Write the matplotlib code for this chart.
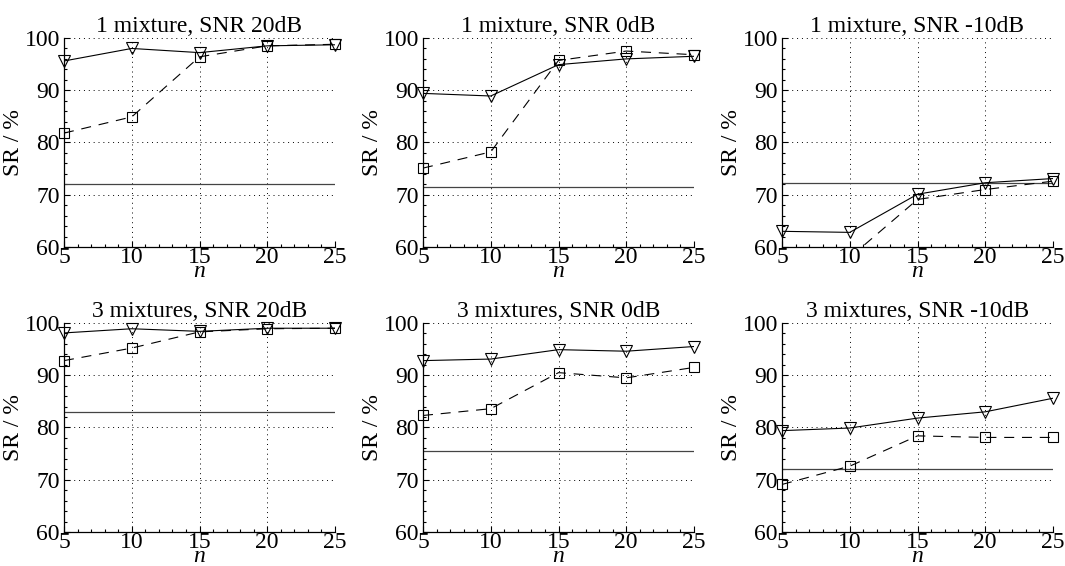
import matplotlib
matplotlib.use("Agg")
import matplotlib.pyplot as plt
from matplotlib.ticker import MultipleLocator
from matplotlib.patches import Rectangle

plt.rcParams['font.family'] = ['Liberation Serif', 'DejaVu Serif']
plt.rcParams['mathtext.fontset'] = 'custom'
plt.rcParams['mathtext.it'] = 'Liberation Serif:italic'

n_values = [5, 10, 15, 20, 25]

titles = ["1 mixture, SNR 20dB", "1 mixture, SNR 0dB", "1 mixture, SNR -10dB",
          "3 mixtures, SNR 20dB", "3 mixtures, SNR 0dB", "3 mixtures, SNR -10dB"]

# solid line with down-triangles
tri_1mix_20 = [95.6, 98.0, 97.2, 98.5, 98.7]
tri_1mix_0 = [89.4, 88.9, 94.9, 96.0, 96.5]
tri_1mix_m10 = [63.0, 62.8, 70.1, 72.3, 73.1]
tri_3mix_20 = [98.1, 98.9, 98.4, 99.0, 99.0]
tri_3mix_0 = [92.8, 93.1, 94.9, 94.6, 95.5]
tri_3mix_m10 = [79.4, 79.9, 81.8, 83.0, 85.6]

# dashed line with squares
sq_1mix_20 = [81.8, 84.9, 96.4, 98.5, 98.8]
sq_1mix_0 = [75.1, 78.2, 95.7, 97.5, 96.8]
sq_1mix_m10 = [55.0, 58.0, 69.1, 71.0, 72.6]
sq_3mix_20 = [92.8, 95.2, 98.3, 98.9, 99.0]
sq_3mix_0 = [82.3, 83.6, 90.5, 89.5, 91.5]
sq_3mix_m10 = [69.1, 72.6, 78.4, 78.1, 78.1]

# horizontal reference level
baseline = [72.1, 71.5, 72.2, 83.0, 75.5, 72.1]

tri_series = [tri_1mix_20, tri_1mix_0, tri_1mix_m10, tri_3mix_20, tri_3mix_0, tri_3mix_m10]
sq_series = [sq_1mix_20, sq_1mix_0, sq_1mix_m10, sq_3mix_20, sq_3mix_0, sq_3mix_m10]

fig = plt.figure(figsize=(10.65, 5.66), dpi=100)

lefts = [64, 423, 782]
tops = [38, 323]
W, H = 271, 209
FW, FH = 1065, 566

fs = 17
for i in range(6):
    r, c = divmod(i, 3)
    ax = fig.add_axes([lefts[c] / FW, 1 - (tops[r] + H) / FH, W / FW, H / FH])
    # lines (clipped to axes)
    ax.plot(n_values, tri_series[i], color='black', lw=0.8, zorder=3)
    ax.plot(n_values, sq_series[i], color='black', lw=0.8, dashes=(9, 7), zorder=3)
    # markers (allowed to extend over the axes edges, but not below the y range)
    clip = Rectangle((-0.1, 0.0), 1.2, 1.2, transform=ax.transAxes)
    m1, = ax.plot(n_values, tri_series[i], linestyle='none', marker='v',
                  markersize=9, markerfacecolor='none', markeredgecolor='black',
                  markeredgewidth=0.8, zorder=4)
    m2, = ax.plot(n_values, sq_series[i], linestyle='none', marker='s',
                  markersize=7, markerfacecolor='none', markeredgecolor='black',
                  markeredgewidth=0.8, zorder=4)
    m1.set_clip_path(clip)
    m2.set_clip_path(clip)
    ax.axhline(baseline[i], color='#444444', lw=0.9, zorder=2)
    ax.set_xlim(5, 25)
    ax.set_ylim(60, 100)
    ax.xaxis.set_major_locator(MultipleLocator(5))
    ax.xaxis.set_minor_locator(MultipleLocator(1))
    ax.yaxis.set_major_locator(MultipleLocator(10))
    ax.yaxis.set_minor_locator(MultipleLocator(2))
    ax.tick_params(which='both', direction='in', top=False, right=False,
                   labelsize=fs, width=0.8)
    ax.tick_params(which='major', length=4)
    ax.tick_params(which='minor', length=2.5)
    ax.tick_params(axis='x', pad=0)
    ax.tick_params(axis='y', pad=3)
    ax.grid(True, which='major', linestyle=(0, (1, 4)), color='black', lw=0.7)
    for s in ['top', 'right']:
        ax.spines[s].set_visible(False)
    for s in ['left', 'bottom']:
        ax.spines[s].set_linewidth(0.9)
    ax.set_title(titles[i], fontsize=fs, pad=4)
    ax.set_ylabel('SR / %', fontsize=fs, labelpad=0)
    ax.set_xlabel('$n$', fontsize=fs, labelpad=-5)

fig.savefig('out.png', dpi=100)
